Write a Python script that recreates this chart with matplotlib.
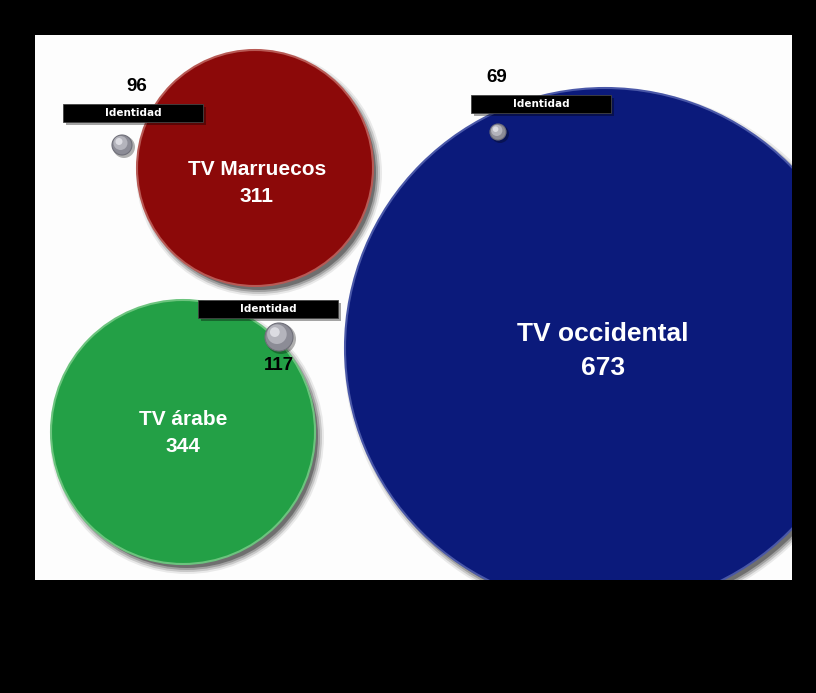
import matplotlib.pyplot as plt
from matplotlib.patches import Circle, Rectangle

# data
groups = ['TV Marruecos', 'TV árabe', 'TV occidental']
values = [311, 344, 673]
sub_values = [96, 117, 69]
sub_label = 'Identidad'

# layout (pixel coords of the white panel)
colors = ['#8c0909', '#23a046', '#0b1a7b']
rims = ['#b85a55', '#6cc47e', '#4a58a8']
centers = [(255, 168), (183, 432), (605, 348)]
radii = [118, 132, 260]
text_pos = [(257, 183), (183, 433), (603, 351)]
text_size = [15, 15, 19]
ball_pos = [(122, 145), (279, 337), (498, 132)]
ball_r = [10, 14, 8]
box_pos = [(63, 104), (198, 300), (471, 95)]
num_pos = [(137, 87), (279, 366), (497, 78)]

fig = plt.figure(figsize=(8.16, 6.93), dpi=100, facecolor='black')
ax = fig.add_axes([35 / 816, (693 - 580) / 693, (792 - 35) / 816, (580 - 35) / 693])
ax.set_facecolor('#fdfdfd')
ax.set_xlim(35, 792)
ax.set_ylim(580, 35)
ax.axis('off')
ax.add_patch(Rectangle((35, 35), 757, 545, facecolor='#fdfdfd', edgecolor='none', zorder=0))

font = 'Liberation Sans'

for i in range(3):
    cx, cy = centers[i]
    r = radii[i]
    # soft drop shadow
    for k, a in zip([8, 6, 4, 2], [0.08, 0.14, 0.2, 0.3]):
        ax.add_patch(Circle((cx + 4, cy + 5), r + k - 3, facecolor='black',
                            edgecolor='none', alpha=a, zorder=1))
    ax.add_patch(Circle((cx, cy), r, facecolor=colors[i], edgecolor=rims[i],
                        linewidth=1.5, zorder=2))
    tx, ty = text_pos[i]
    ax.text(tx, ty, groups[i] + '\n' + str(values[i]), color='white',
            fontsize=text_size[i], fontweight='bold', family=font,
            ha='center', va='center', linespacing=1.5, zorder=3)

for i in range(3):
    bx, by = ball_pos[i]
    br = ball_r[i]
    ax.add_patch(Circle((bx + 2, by + 2), br + 1, facecolor='black', alpha=0.3,
                        edgecolor='none', zorder=4))
    ax.add_patch(Circle((bx, by), br, facecolor='#8c8c96', edgecolor='#70707a',
                        linewidth=0.8, zorder=5))
    ax.add_patch(Circle((bx - br * 0.15, by - br * 0.2), br * 0.7, facecolor='#b4b4bc',
                        edgecolor='none', zorder=6))
    ax.add_patch(Circle((bx - br * 0.3, by - br * 0.35), br * 0.35, facecolor='#dcdce2',
                        edgecolor='none', zorder=7))

    x0, y0 = box_pos[i]
    ax.add_patch(Rectangle((x0 + 3, y0 + 3), 140, 18, facecolor='black', alpha=0.35,
                           edgecolor='none', zorder=8))
    ax.add_patch(Rectangle((x0, y0), 140, 18, facecolor='black', edgecolor='#444444',
                           linewidth=0.6, zorder=9))
    ax.text(x0 + 70, y0 + 9.5, sub_label, color='white', fontsize=7.5,
            fontweight='bold', family='DejaVu Sans', ha='center', va='center', zorder=10)

    nx, ny = num_pos[i]
    ax.text(nx, ny, str(sub_values[i]), color='black', fontsize=13.5, fontweight='bold',
            family=font, ha='center', va='center', zorder=10)

fig.savefig('out.png', dpi=100, facecolor='black')
